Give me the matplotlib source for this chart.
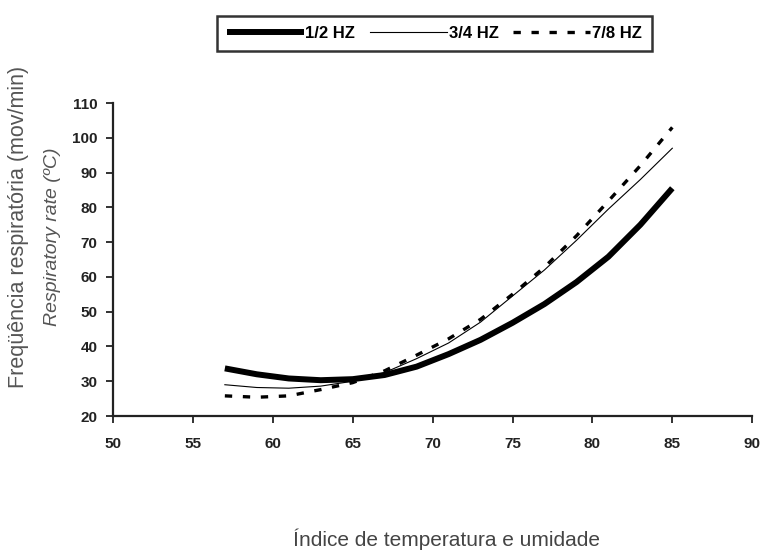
import matplotlib
matplotlib.use('Agg')
import matplotlib.pyplot as plt
import numpy as np

# fontes (condensada para números e legenda, se houver)
narrow = ['Liberation Sans Narrow', 'Liberation Sans', 'DejaVu Sans']
plt.rcParams['font.family'] = narrow

# dados
itu = [57, 59, 61, 63, 65, 67, 69, 71, 73, 75, 77, 79, 81, 83, 85]
fr_1_2 = [33.7, 32.0, 30.8, 30.3, 30.6, 31.8, 34.2, 37.8, 41.9, 46.8, 52.2, 58.5, 65.8, 75.0, 85.5]
fr_3_4 = [29.0, 28.2, 28.0, 28.6, 30.0, 32.5, 36.5, 41.0, 47.0, 54.5, 62.0, 70.5, 79.5, 88.0, 97.0]
fr_7_8 = [25.8, 25.4, 25.8, 27.6, 29.6, 33.0, 37.5, 42.2, 47.8, 55.0, 62.8, 71.8, 81.8, 92.0, 103.0]
series_labels = ['1/2 HZ', '3/4 HZ', '7/8 HZ']

x_ticks = list(range(50, 91, 5))
y_ticks = list(range(20, 111, 10))

fig = plt.figure(figsize=(7.66, 5.53), dpi=100)
ax = fig.add_axes([0.1475, 0.2477, 0.8345, 0.566])

l1, = ax.plot(itu, fr_1_2, color='black', linewidth=4.3, solid_capstyle='butt', solid_joinstyle='round')
l2, = ax.plot(itu, fr_3_4, color='black', linewidth=0.8)
l3, = ax.plot(itu, fr_7_8, color='black', linewidth=2.4, dashes=(2.2, 3.2))

ax.set_xlim(50, 90)
ax.set_ylim(20, 110)
ax.set_xticks(x_ticks)
ax.set_yticks(y_ticks)
ax.tick_params(direction='out', length=5, width=1.3, colors='#222222', labelsize=11, pad=6)
for lab in ax.get_xticklabels() + ax.get_yticklabels():
    lab.set_fontweight('bold')
ax.tick_params(axis='x', pad=10)

ax.spines['top'].set_visible(False)
ax.spines['right'].set_visible(False)
for s in ['left', 'bottom']:
    ax.spines[s].set_linewidth(1.6)
    ax.spines[s].set_color('#222222')

# legenda no topo
leg = fig.legend([l1, l2, l3], series_labels, loc='center', bbox_to_anchor=(0.567, 0.94),
                 ncol=3, frameon=True, fancybox=False, handlelength=4.6, handletextpad=0.1,
                 columnspacing=0.9, borderpad=0.6, prop={'weight': 'bold', 'size': 12})
leg.get_frame().set_edgecolor('black')
leg.get_frame().set_linewidth(1.8)

# rótulos dos eixos
fig.text(0.024, 0.59, 'Freqüência respiratória (mov/min)', rotation=90, ha='center', va='center',
         fontsize=15.5, color='#555555', family=['Liberation Sans', 'DejaVu Sans'])
fig.text(0.068, 0.572, 'Respiratory rate (ºC)', rotation=90, ha='center', va='center',
         fontsize=14, color='#555555', style='italic', family=['Liberation Sans', 'DejaVu Sans'])
fig.text(0.583, 0.025, 'Índice de temperatura e umidade', ha='center', va='center',
         fontsize=15, color='#444444')

plt.savefig('out.png', dpi=100)
